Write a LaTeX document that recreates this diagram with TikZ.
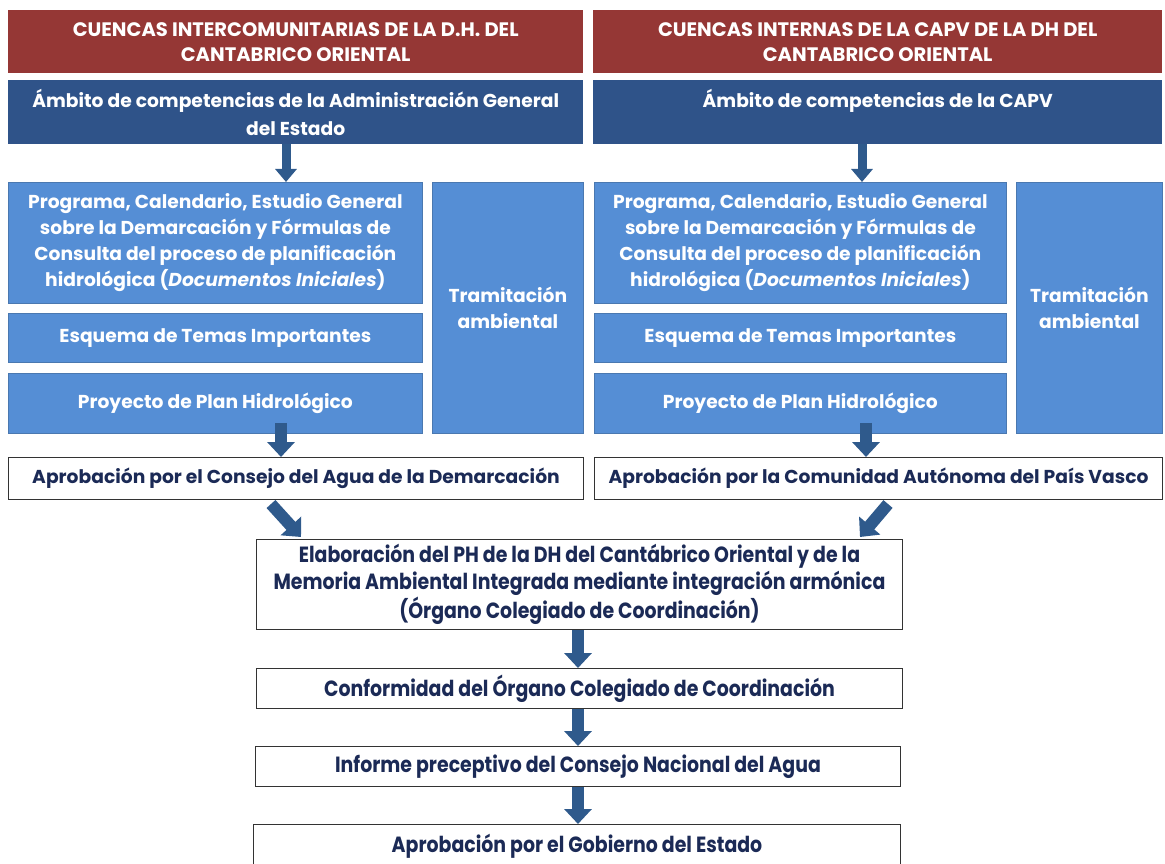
\documentclass[tikz,border=0pt]{standalone}
\usepackage{fontspec}
\setmainfont{Poppins}
\newfontfamily\condfont{Poppins}[FakeStretch=0.86]
\usetikzlibrary{arrows.meta,positioning}
\definecolor{hdrred}{HTML}{953735}
\definecolor{ambblue}{HTML}{2F5389}
\definecolor{stepblue}{HTML}{558ED5}
\definecolor{stepedge}{HTML}{4A78B0}
\definecolor{navy}{HTML}{1B2A56}
\definecolor{arrblue}{HTML}{2F5A8C}
\tikzset{
  box/.style={rectangle, anchor=north west, inner sep=0pt, align=center,
    font=\bfseries\fontsize{18.7}{26}\selectfont},
  hdrbox/.style={box, fill=hdrred, text=white, font=\bfseries\fontsize{19.5}{25}\selectfont},
  ambbox/.style={box, fill=ambblue, text=white, font=\bfseries\fontsize{18.7}{28}\selectfont},
  stepbox/.style={box, fill=stepblue, draw=stepedge, line width=0.8pt, text=white},
  whitebox/.style={box, fill=white, draw=black!80, line width=1pt, text=navy},
  condbox/.style={whitebox, font=\condfont\bfseries\fontsize{22}{27}\selectfont},
  barrow/.style={draw=arrblue, line width=9pt, -{Triangle[width=21pt,length=13pt]}},
  bigarrow/.style={draw=arrblue, line width=12pt, -{Triangle[width=27pt,length=15pt]}}
}
\begin{document}
\begin{tikzpicture}[x=1pt,y=-1pt]
    \useasboundingbox (0,0) rectangle (1165,864);
    % cabeceras
    \node[hdrbox, minimum width=575pt, minimum height=63pt] (hdrL) at (8,10)
        {CUENCAS INTERCOMUNITARIAS DE LA D.H. DEL\\CANTABRICO ORIENTAL};
    \node[hdrbox, minimum width=569pt, minimum height=63pt] (hdrR) at (593,10)
        {CUENCAS INTERNAS DE LA CAPV DE LA DH DEL\\CANTABRICO ORIENTAL};
    \node[ambbox, minimum width=575pt, minimum height=64pt] (ambL) at (8,80)
        {Ámbito de competencias de la Administración General\\del Estado};
    \node[ambbox, minimum width=569pt, minimum height=64pt] (ambR) at (593,80)
        {Ámbito de competencias de la CAPV\\\mbox{}};
    % columna izquierda
    \node[stepbox, minimum width=414pt, minimum height=121pt] (progL) at (8,182)
        {Programa, Calendario, Estudio General\\sobre la Demarcación y Fórmulas de\\Consulta del proceso de planificación\\hidrológica (\textit{Documentos Iniciales})};
    \node[stepbox, minimum width=414pt, minimum height=49pt] (esqL) at (8,313)
        {Esquema de Temas Importantes};
    \node[stepbox, minimum width=414pt, minimum height=60pt] (proyL) at (8,373)
        {Proyecto de Plan Hidrológico};
    \node[stepbox, minimum width=151pt, minimum height=251pt] (tramL) at (432,182)
        {Tramitación\\ambiental};
    % columna derecha
    \node[stepbox, minimum width=412pt, minimum height=121pt] (progR) at (594,182)
        {Programa, Calendario, Estudio General\\sobre la Demarcación y Fórmulas de\\Consulta del proceso de planificación\\hidrológica (\textit{Documentos Iniciales})};
    \node[stepbox, minimum width=412pt, minimum height=49pt] (esqR) at (594,313)
        {Esquema de Temas Importantes};
    \node[stepbox, minimum width=412pt, minimum height=60pt] (proyR) at (594,373)
        {Proyecto de Plan Hidrológico};
    \node[stepbox, minimum width=146pt, minimum height=251pt] (tramR) at (1016,182)
        {Tramitación\\ambiental};
    % aprobaciones
    \node[whitebox, minimum width=575pt, minimum height=42pt] (aprL) at (8,457)
        {Aprobación por el Consejo del Agua de la Demarcación};
    \node[whitebox, minimum width=568pt, minimum height=42pt] (aprR) at (594,457)
        {Aprobación por la Comunidad Autónoma del País Vasco};
    % tramo comun
    \node[condbox, minimum width=646pt, minimum height=90pt] (elab) at (256,539)
        {Elaboración del PH de la DH del Cantábrico Oriental y de la\\Memoria Ambiental Integrada mediante integración armónica\\(Órgano Colegiado de Coordinación)};
    \node[condbox, minimum width=646pt, minimum height=40pt] (conf) at (256,668)
        {Conformidad del Órgano Colegiado de Coordinación};
    \node[condbox, minimum width=645pt, minimum height=40pt] (inf) at (255,746)
        {Informe preceptivo del Consejo Nacional del Agua};
    \node[condbox, minimum width=647pt, minimum height=44pt] (gob) at (253,824)
        {Aprobación por el Gobierno del Estado};
    % flechas
    \coordinate (aL) at (286,0);
    \coordinate (aR) at (862,0);
    \coordinate (pL) at (281,0);
    \coordinate (pR) at (866,0);
    \coordinate (bC) at (578,0);
    \coordinate (dL1) at (271,504);
    \coordinate (dL2) at (301,537);
    \coordinate (dR1) at (888,504);
    \coordinate (dR2) at (860,537);
    \draw[barrow] (ambL.south -| aL) -- (progL.north -| aL);
    \draw[barrow] (ambR.south -| aR) -- (progR.north -| aR);
    \draw[bigarrow] ([yshift=11pt]proyL.south -| pL) -- (aprL.north -| pL);
    \draw[bigarrow] ([yshift=11pt]proyR.south -| pR) -- (aprR.north -| pR);
    \draw[bigarrow] (dL1) -- (dL2);
    \draw[bigarrow] (dR1) -- (dR2);
    \draw[bigarrow] (elab.south -| bC) -- (conf.north -| bC);
    \draw[bigarrow] (conf.south -| bC) -- (inf.north -| bC);
    \draw[bigarrow] (inf.south -| bC) -- (gob.north -| bC);
\end{tikzpicture}
\end{document}
